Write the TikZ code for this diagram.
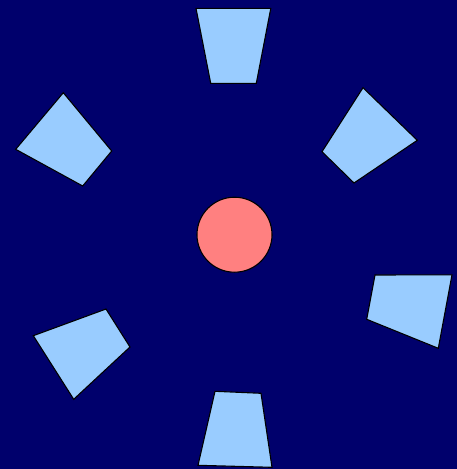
\documentclass[tikz,border=0pt]{standalone}
\definecolor{bgnavy}{RGB}{0,0,108}
\definecolor{padblue}{RGB}{153,204,255}
\definecolor{corepink}{RGB}{255,128,128}
\begin{document}
\begin{tikzpicture}[x=1pt,y=-1pt,
  pad/.style={draw=black,fill=padblue,line width=1.1pt,line join=miter},
  core/.style={draw=black,fill=corepink,line width=1.1pt}]
\fill[bgnavy] (0,0) rectangle (457,469);
\useasboundingbox (0,0) rectangle (457,469);
% top
\draw[pad] (196,8.3) -- (270.8,8.3) -- (256.3,83.3) -- (210.7,83.3) -- cycle;
% upper right
\draw[pad] (363,87.7) -- (417.3,140.3) -- (354,183) -- (322,151.7) -- cycle;
% upper left
\draw[pad] (63.3,92.7) -- (111.7,151) -- (82.7,186) -- (15.7,149.3) -- cycle;
% right
\draw[pad] (375,275) -- (452,274.8) -- (438.3,348.3) -- (366.7,319.3) -- cycle;
% lower left
\draw[pad] (106,309) -- (130,347) -- (73.7,399.3) -- (33.3,335.7) -- cycle;
% bottom
\draw[pad] (215,391.3) -- (261,393.3) -- (272,467.3) -- (198,465.3) -- cycle;
% centre
\draw[core] (234.5,234.7) circle[radius=37.5];
\end{tikzpicture}
\end{document}
